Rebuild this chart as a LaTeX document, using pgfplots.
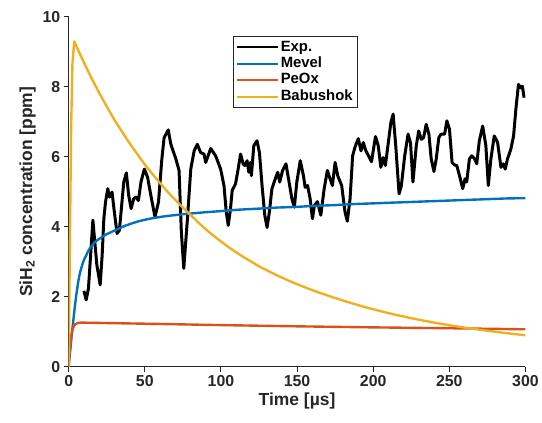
\documentclass[border=0pt]{standalone}
\usepackage{fontspec}
\setmainfont{Liberation Sans}
\usepackage{pgfplots}
\pgfplotsset{compat=1.18}
\definecolor{mblue}{rgb}{0,0.447,0.741}
\definecolor{mred}{rgb}{0.85,0.325,0.098}
\definecolor{myellow}{rgb}{0.929,0.694,0.125}
\definecolor{axisgray}{rgb}{0.15,0.15,0.15}
\begin{document}
\begin{tikzpicture}
\begin{axis}[
  scale only axis, width=459bp, height=351.5bp,
  xmin=0, xmax=300, ymin=0, ymax=10,
  xtick={0,50,...,300}, ytick={0,2,...,10},
  axis x line*=bottom, axis y line*=left,
  axis line style={-, line width=1.1bp, color=axisgray},
  tick style={line width=1.1bp, color=axisgray},
  tick align=outside, major tick length=5bp,
  /pgf/number format/assume math mode=true,
  scaled ticks=false,
  ticklabel style={font=\fontsize{16}{18}\selectfont\bfseries, text=axisgray},
  label style={font=\fontsize{17.6}{20}\selectfont\bfseries, text=axisgray},
  xlabel={Time [µs]},
  ylabel={SiH\textsubscript{2} concentration [ppm]},
  legend cell align=left,
  legend image code/.code={\draw[#1, line width=2.2bp] (0bp,0bp) -- (41bp,0bp);},
  legend style={at={(0.3595,0.946)}, anchor=north west, draw=axisgray, line width=0.8bp,
    font=\fontsize{15}{16}\selectfont\bfseries, inner xsep=3bp, inner ysep=3bp,
    row sep=0pt,
    nodes={inner sep=1.5bp, text height=10.5bp, text depth=3bp}},
]
\addplot[black, line width=3bp, line join=round] coordinates {
(10,2.17) (11.5,1.91) (13,2.24) (15.9,4.19) (18.5,2.91) (20.7,2.34) (22,3.19) (23.1,4.23)
(24.2,4.71) (25.7,5.09) (26.8,4.85) (28.5,4.99) (30,4.42) (31.8,3.81) (33.3,3.9) (34.8,4.61)
(36.2,5.28) (37.9,5.54) (39.4,4.9) (41,4.52) (42.7,4.8) (44.2,4.85) (45.8,4.75) (47.5,5.28)
(49.7,5.65) (51.8,5.42) (54.4,4.8) (56.7,4.28) (59,4.71) (61.2,5.94) (62.7,6.55) (65.4,6.77)
(67.1,6.36) (70.4,5.94) (72.5,5.61) (74,3.85) (75.6,2.81) (78,4.23) (80.2,5.65) (82.4,6.17)
(84.5,6.36) (86.7,6.12) (88.9,6.08) (90,5.84) (93.3,6.24) (96.5,6.03) (99.8,5.65) (102,5.18)
(103.5,4.42) (104.8,4.04) (106.3,4.52) (107.4,5.04) (109.6,5.23) (111.3,5.65) (112.9,6.08) (114.6,5.8)
(115.7,5.75) (117.2,5.89) (118.3,5.56) (119.4,5.84) (120,5.46) (121.6,6.32) (123.7,6.46) (125.3,6.12)
(127,5.18) (128.8,4.33) (130.3,3.98) (131.8,4.42) (133.5,5.09) (135.7,5.37) (137.3,5.56) (138.6,5.28)
(140.5,5.61) (142.7,5.8) (144.4,5.37) (146.6,4.8) (148.2,4.56) (149.9,5.3) (152.1,5.89) (154.2,5.46)
(155.3,5.13) (156.9,5.18) (158.6,4.8) (160.1,4.23) (161.4,4.61) (163.4,4.72) (165.6,4.33) (167.8,5.09)
(169.9,5.61) (171.7,5.37) (173.2,5.18) (175,5.84) (176.7,5.46) (179.3,5.18) (181.5,4.42) (183,4.16)
(184.8,4.8) (186.5,6.03) (188,6.27) (190.2,6.52) (192,6.17) (193.5,6.41) (195.2,6.17) (196.7,6.05)
(198.9,5.86) (201.5,6.58) (203.3,6.32) (205,5.7) (206.5,5.98) (208,5.75) (209.8,6.36) (211.6,6.98)
(213.1,7.22) (214.8,6.32) (217,4.94) (218.5,5.18) (220.7,6.03) (222.9,6.65) (224.5,6.4) (226.1,5.28)
(228.3,6.32) (229.9,6.74) (231.6,6.5) (233.1,6.55) (234.8,6.93) (236.6,6.65) (238.1,5.94) (239.9,5.58)
(241.4,5.94) (243.1,6.55) (244.6,6.65) (246.9,6.65) (248.4,7.03) (250.1,6.79) (251.8,5.84) (253.4,5.77)
(254.9,5.75) (256.7,5.46) (258.8,5.09) (260.3,5.37) (261.4,5.28) (263.2,5.94) (264.7,6.03) (266.5,5.95)
(268,5.8) (269.7,6.46) (271.9,6.88) (274,6.32) (275.6,5.18) (277.3,5.94) (279.5,6.6) (281.7,6.41)
(283.9,5.7) (285.4,5.8) (286.7,5.65) (288.2,5.94) (290.4,6.22) (292.2,6.6) (293.7,7.36) (295.4,8.07)
(296.9,7.97) (298,8.02) (299.1,7.69)
};
\addlegendentry{Exp.}
\addplot[mblue, line width=2.4bp, line join=round] coordinates {
(0,0) (0.5,0.25) (1,0.45) (1.5,0.68) (2,0.9) (2.5,1.1) (3,1.3) (3.5,1.5) (4,1.7) (4.5,1.88) (5,2.05)
(5.5,2.2) (6,2.35) (6.5,2.48) (7,2.6) (7.7,2.73) (8.5,2.85) (9.2,2.95) (10,3.05) (10.8,3.12) (11.6,3.19)
(12.3,3.26) (13,3.32) (14,3.39) (15,3.45) (16,3.5) (17,3.55) (18,3.59) (19.5,3.64) (21,3.68)
(23,3.74) (25,3.79) (27.5,3.84) (30,3.89) (33,3.95) (36.5,4.02) (41,4.09) (46,4.16) (52,4.22)
(57,4.26) (63,4.3) (69,4.33) (75,4.36) (88,4.41) (100,4.45) (112,4.49) (125,4.52) (137,4.55)
(150,4.57) (162,4.6) (175,4.62) (187,4.65) (200,4.67) (212,4.69) (225,4.71) (237,4.73)
(250,4.75) (262,4.77) (275,4.79) (287,4.81) (300,4.82)
};
\addlegendentry{Mevel}
\addplot[mred, line width=2.4bp, line join=round] coordinates {
(0,0) (0.5,0.35) (1,0.6) (1.5,0.8) (2,0.95) (2.5,1.05) (3,1.12) (3.5,1.17) (4,1.2) (5,1.23)
(6,1.25) (8,1.26) (10,1.26) (50,1.23) (100,1.19) (150,1.155) (200,1.125) (250,1.1) (300,1.07)
};
\addlegendentry{PeOx}
\addplot[myellow, line width=2.4bp, line join=round] coordinates {
(0,0) (0.8,3.5) (1.6,6.8) (2.5,8.7) (3.7,9.3) (6,9.07) (10,8.7) (15,8.25) (20,7.83) (25,7.44)
(30,7.06) (35,6.72) (40,6.39) (45,6.08) (50,5.78) (55,5.51) (60,5.25) (65,5.0) (70,4.77)
(75,4.55) (80,4.34) (85,4.13) (90,3.93) (95,3.75) (100,3.58) (105,3.42) (110,3.27)
(115,3.13) (120,3.0) (125,2.87) (130,2.76) (135,2.65) (140,2.55) (145,2.45) (150,2.36)
(157.5,2.23) (165,2.11) (172.5,2.0) (180,1.895) (187.5,1.795) (195,1.70) (202.5,1.615)
(210,1.533) (217.5,1.458) (225,1.388) (232.5,1.323) (240,1.262) (247.5,1.205) (255,1.152)
(262.5,1.103) (270,1.057) (277.5,1.014) (285,0.973) (292.5,0.935) (300,0.90)
};
\addlegendentry{Babushok}
\end{axis}
\path ([shift={(-69bp,-56.5bp)}]current axis.south west) rectangle ([shift={(14bp,17bp)}]current axis.north east);
\end{tikzpicture}
\end{document}
